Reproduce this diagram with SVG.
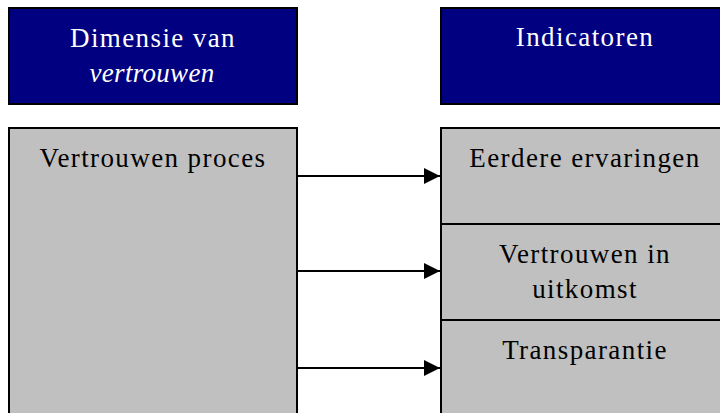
<svg xmlns="http://www.w3.org/2000/svg" width="720" height="413" viewBox="0 0 720 413">
<defs>
<style>
.hdr{fill:#000080;stroke:#000;stroke-width:2}
.box{fill:#C0C0C0;stroke:#000;stroke-width:2}
.t{font-family:"Liberation Serif","Times New Roman",serif;font-size:27px;letter-spacing:1.4px;text-anchor:middle}
.it{font-style:italic;letter-spacing:0.3px}
.w{fill:#fff}
.k{fill:#000}
.c{stroke:#000;stroke-width:2;fill:none}
</style>
<marker id="ah2" viewBox="0 0 16 16" refX="16" refY="8" markerWidth="16" markerHeight="16" orient="auto" markerUnits="userSpaceOnUse">
<path d="M0,0 L16,8 L0,16 Z" fill="#000"/>
</marker>
</defs>
<rect width="720" height="413" fill="#fff"/>
<g id="hdr-dim">
<rect class="hdr" x="9" y="8" width="288" height="96"/>
<text class="t w" x="153" y="47">Dimensie van</text>
<text class="t w it" x="152" y="82">vertrouwen</text>
</g>
<g id="hdr-ind">
<rect class="hdr" x="441" y="8" width="290" height="96"/>
<text class="t w" x="585" y="46">Indicatoren</text>
</g>
<g id="proces">
<rect class="box" x="9" y="128" width="288" height="300"/>
<text class="t k" x="153" y="167">Vertrouwen proces</text>
</g>
<g id="eerdere">
<rect class="box" x="441" y="128" width="290" height="96"/>
<text class="t k" x="585" y="167">Eerdere ervaringen</text>
</g>
<g id="uitkomst">
<rect class="box" x="441" y="224" width="290" height="96"/>
<text class="t k" x="585" y="263">Vertrouwen in</text>
<text class="t k" x="585" y="298">uitkomst</text>
</g>
<g id="transparantie">
<rect class="box" x="441" y="320" width="290" height="110"/>
<text class="t k" x="585" y="359">Transparantie</text>
</g>
<g id="connectors">
<line class="c" x1="298" y1="176" x2="440" y2="176" marker-end="url(#ah2)"/>
<line class="c" x1="298" y1="271" x2="440" y2="271" marker-end="url(#ah2)"/>
<line class="c" x1="298" y1="368" x2="440" y2="368" marker-end="url(#ah2)"/>
</g>
</svg>
